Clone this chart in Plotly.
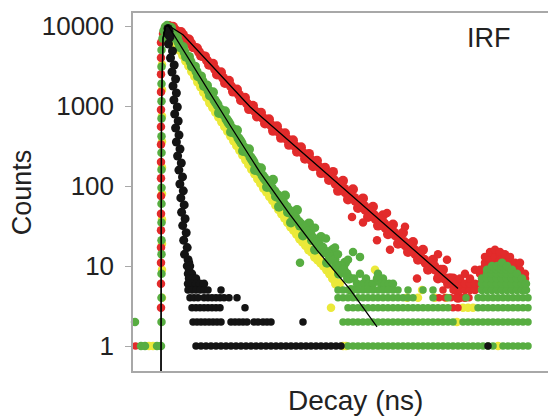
import plotly.graph_objects as go

# ---------------- data (time in ns, counts) ----------------
# RED sample
red_rise_t = [2.8] * 16 + [3.0, 3.2, 3.45]
red_rise_c = [3, 6, 11, 17, 28, 45, 75, 125, 200, 330, 550, 900, 1500, 2500, 4000, 6200, 8000, 9500, 10100]
red_decay_t = [3.6, 4.0, 4.4, 4.8, 5.2, 5.6, 6.0, 6.4, 6.8, 7.2, 7.6,
               8.0, 8.4, 8.8, 9.2, 9.6, 10.0, 10.4, 10.8, 11.2, 11.6,
               12.0, 12.4, 12.8, 13.2, 13.6, 14.0, 14.4, 14.8, 15.2, 15.6,
               16.0, 16.4, 16.8, 17.2, 17.6, 18.0, 18.4, 18.8, 19.2, 19.6,
               20.0, 20.25, 20.5, 20.75, 21.0, 21.25, 21.5, 21.75, 22.0, 22.25,
               22.5, 22.75, 23.0, 23.25, 23.5, 23.75, 24.0, 24.25, 24.5, 24.75,
               25.0, 25.25, 25.5, 25.75, 26.0, 26.25, 26.5, 26.75, 27.0, 27.25,
               27.5, 27.75, 28.0, 28.25, 28.5, 28.75, 29.0, 29.25, 29.5, 29.75,
               30.0, 30.25, 30.5, 30.75, 31.0, 31.25, 31.5, 31.75, 32.0, 32.25,
               32.5]
red_decay_c = [10000, 9770, 8280, 8430, 6970, 6760, 5445, 5270, 4256, 4170, 3289,
               3373, 2477, 2636, 1936, 2061, 1514, 1607, 1183, 1271, 914,
               1005, 740, 822, 604, 681, 489, 557, 400, 456, 327,
               372, 268, 305, 219, 252, 177, 207, 145, 169, 119,
               150, 107, 87, 108, 116, 83, 68, 84, 91, 65,
               53, 65, 70, 50, 41, 51, 55, 39, 32, 40,
               43, 30, 25, 31, 33, 24, 19, 24, 26, 18,
               15, 19, 20, 14, 12, 15, 16, 11, 9, 11,
               12, 9, 7, 9, 9, 7, 6, 7, 7, 5,
               4]
red_mid_t = [3.8, 4.2, 4.6, 5.0, 5.4, 5.8, 6.2, 6.6, 7.0, 7.4, 7.8,
             8.2, 8.6, 9.0, 9.4, 9.8, 10.2, 10.6, 11.0, 11.4, 11.8,
             12.2, 12.6, 13.0, 13.4, 13.8, 14.2, 14.6, 15.0, 15.4, 15.8,
             16.2, 16.6, 17.0, 17.4, 17.8, 18.2, 18.6, 19.0, 19.4, 19.8,
             20.125, 20.625, 21.125, 21.625, 22.125, 22.625, 23.125, 23.625, 24.125, 24.625,
             25.125, 25.625, 26.125, 26.625, 27.125, 27.625, 28.125, 28.625, 29.125, 29.625,
             30.125, 30.625, 31.125, 31.625, 32.125]
red_mid_c = [9680, 8995, 8356, 7762, 6855, 6067, 5358, 4742, 4188, 3698, 3273,
             2891, 2559, 2259, 1995, 1766, 1560, 1380, 1219, 1076, 953,
             861, 780, 705, 638, 577, 521, 472, 427, 386, 349,
             316, 286, 258, 234, 211, 191, 173, 156, 142, 128,
             118, 104, 92, 81, 71, 63, 56, 49, 43, 38,
             34, 30, 26, 23, 20, 18, 16, 14, 12, 11,
             10, 8, 7, 7, 6]
red_out_t = [21.9, 25.4, 24.4, 25.7, 28.4, 27.2, 30.5, 31.4, 23.0]
red_out_c = [41, 46, 21, 16, 7, 31, 14, 12, 35]
red_tail_t = [32.7, 32.7, 32.7, 32.7, 33.2, 33.2, 33.2, 33.2, 33.7, 33.7, 33.7,
              34.2, 34.2, 34.2, 34.7, 34.7, 34.7, 35.2, 35.2, 35.2, 35.7, 35.7, 35.7,
              36.2, 36.2, 36.2, 36.7, 36.7, 36.7, 37.2, 37.2, 37.2, 37.7, 37.7, 37.7,
              38.2, 38.2, 38.2, 38.7, 38.7, 38.7, 39.2, 39.2]
red_tail_c = [4, 5, 6, 7, 4, 5, 6, 8, 5, 6, 7,
              5, 6, 9, 6, 8, 9, 10, 11, 13, 10, 12, 15,
              11, 13, 16, 12, 14, 15, 11, 12, 14, 10, 11, 13,
              9, 10, 11, 8, 9, 11, 7, 8]
red_rows_t = [30.6, 31.2, 31.8, 32.4, 33.0, 33.6, 31.0, 32.0, 32.0, 32.5, 0.25]
red_rows_c = [4, 4, 4, 4, 4, 4, 5, 5, 3, 3, 1]

# GREEN sample
green_rise_t = [2.85] * 16 + [2.95, 3.05, 3.2, 3.4]
green_rise_c = [2, 4, 8, 14, 21, 35, 60, 95, 160, 260, 420, 700, 1150, 1900, 3100, 5000, 7000, 8700, 9800, 10300]
green_decay_t = [3.8, 4.1, 4.4, 4.7, 5.0, 5.3, 5.6, 5.9, 6.2, 6.5,
                 6.8, 7.1, 7.4, 7.7, 8.0, 8.3, 8.6, 8.9, 9.2, 9.5,
                 9.8, 10.1, 10.4, 10.7, 11.0, 11.3, 11.6, 11.9, 12.2, 12.5,
                 12.8, 13.1, 13.4, 13.7, 14.0, 14.3, 14.6, 14.9, 15.2, 15.5,
                 15.8, 16.1, 16.4, 16.7, 17.0, 17.3, 17.6, 17.9, 18.2, 18.5,
                 18.8, 19.1, 19.4, 19.7, 20.0, 20.3, 20.6, 20.9, 21.2, 21.5,
                 21.8]
green_decay_c = [9530, 7210, 7190, 5445, 5445, 4121, 4111, 3112, 3105, 2350,
                 2344, 1782, 1800, 1355, 1489, 1104, 820, 839, 861, 638,
                 474, 486, 498, 370, 274, 281, 288, 214, 159, 163,
                 167, 127, 97, 102, 120, 74, 55, 71, 76, 47,
                 35, 46, 50, 32, 24, 31, 34, 21, 16, 21,
                 23, 15, 11, 15, 16, 10, 8, 10, 11, 7,
                 5]
green_mid_t = [3.95, 4.25, 4.55, 4.85, 5.15, 5.45, 5.75, 6.05, 6.35, 6.65,
               6.95, 7.25, 7.55, 7.85, 8.15, 8.45, 8.75, 9.05, 9.35, 9.65,
               9.95, 10.25, 10.55, 10.85, 11.15, 11.45, 11.75, 12.05, 12.35, 12.65,
               12.95, 13.25, 13.55, 13.85, 14.15, 14.45, 14.75, 15.05, 15.35, 15.65,
               15.95, 16.25, 16.55, 16.85, 17.15, 17.45, 17.75, 18.05, 18.35, 18.65,
               18.95, 19.25, 19.55, 19.85, 20.15, 20.45, 20.75, 21.05, 21.35, 21.65]
green_mid_c = [8290, 7210, 6270, 5445, 4732, 4111, 3573, 3105, 2698, 2344,
               2042, 1782, 1556, 1355, 1183, 1033, 900, 785, 684, 597,
               521, 454, 396, 345, 301, 263, 229, 200, 174, 152,
               135, 120, 107, 96, 86, 77, 69, 61, 55, 49,
               44, 40, 36, 33, 30, 27, 25, 22, 20, 18,
               17, 15, 14, 13, 12, 10, 10, 9, 8, 7]
green_extra_t = [16.7, 22.0, 22.7, 24.5, 25.0, 21.0, 21.5, 20.5, 18.2, 19.3, 20.2, 22.1,
                 22.4, 22.7, 23.0, 23.3, 23.6, 24.0, 24.4, 24.8, 25.2, 25.6, 26.0,
                 0.8, 1.2, 2.4, 2.8, 0.2]
green_extra_c = [11, 15, 13, 8, 7, 9, 12, 14, 30, 22, 17, 7,
                 6, 8, 6, 7, 6, 6, 7, 6, 6, 6, 6,
                 1, 1, 1, 1, 2]
green_bump_t = [34.9, 34.9, 34.9, 35.4, 35.4, 35.4, 35.4, 35.4,
                35.9, 35.9, 35.9, 35.9, 35.9, 35.9, 36.4, 36.4, 36.4, 36.4, 36.4, 36.4,
                36.9, 36.9, 36.9, 36.9, 36.9, 36.9, 36.9, 37.4, 37.4, 37.4, 37.4, 37.4, 37.4,
                37.9, 37.9, 37.9, 37.9, 37.9, 38.4, 38.4, 38.4, 38.4, 38.9, 38.9, 38.9, 39.3, 39.3]
green_bump_c = [5, 6, 7, 5, 6, 7, 8, 9,
                5, 6, 7, 8, 9, 10, 5, 6, 7, 8, 9, 10,
                5, 6, 7, 8, 9, 10, 11, 5, 6, 7, 8, 9, 10,
                5, 6, 7, 8, 9, 5, 6, 7, 8, 5, 6, 7, 5, 6]
green_row1_t = [21.5, 22.0, 22.5, 23.0, 23.5, 24.0, 24.5, 25.0, 25.5, 26.0, 26.5, 27.0,
                27.5, 28.0, 28.5, 29.0, 29.5, 30.0, 30.5, 31.0, 31.5, 32.0, 32.5, 33.0,
                33.5, 34.0, 34.5, 35.0, 35.5, 36.0, 37.0, 37.5, 38.0, 38.5, 39.0, 39.5]
green_row2_t = [21.0, 21.5, 22.0, 22.5, 23.0, 23.5, 24.0, 24.5, 25.0, 25.5, 26.0, 26.5,
                27.0, 27.5, 28.0, 28.5, 29.0, 29.5, 30.0, 30.5, 31.0, 31.5, 32.0, 33.0,
                33.5, 34.0, 34.5, 35.0, 35.5, 36.0, 36.5, 37.0, 37.5, 38.0, 38.5, 39.0, 39.5]
green_row3_t = [21.5, 22.0, 22.5, 23.0, 23.5, 24.0, 24.5, 25.0, 25.5, 26.0, 26.5, 27.0,
                27.5, 28.0, 28.5, 29.0, 29.5, 30.0, 30.5, 31.0, 31.5, 34.5, 35.0, 35.5,
                36.0, 36.5, 37.0, 37.5, 38.0, 38.5, 39.0, 39.5]
green_row4_t = [20.5, 21.0, 21.5, 22.0, 22.5, 23.0, 23.5, 24.0, 24.5, 25.0, 25.5, 26.0,
                26.5, 27.0, 27.5, 28.0, 30.0, 31.5, 33.3, 34.5, 35.0, 35.5, 36.0, 36.5,
                37.0, 37.5, 38.0, 38.5, 39.0, 39.5]
green_row5_t = [20.5, 21.0, 21.5, 22.0, 22.5, 23.0, 23.5, 24.0, 24.5, 25.0, 25.5, 26.0,
                26.5, 27.5, 29.0, 30.0]

# YELLOW sample
yellow_rise_t = [2.9] * 10 + [3.1, 3.3]
yellow_rise_c = [4, 9, 19, 38, 80, 170, 360, 750, 1600, 3300, 8500, 9900]
yellow_decay_t = [4.1, 4.4, 4.7, 5.0, 5.3, 5.6, 5.9, 6.2, 6.5, 6.8,
                  7.1, 7.4, 7.7, 8.0, 8.3, 8.6, 8.9, 9.2, 9.5, 9.8,
                  10.1, 10.4, 10.7, 11.0, 11.3, 11.6, 11.9, 12.2, 12.5, 12.8,
                  13.1, 13.4, 13.7, 14.0, 14.3, 14.6, 14.9, 15.2, 15.5, 15.8,
                  16.1, 16.4, 16.7, 17.0, 17.3, 17.6, 17.9, 18.2, 18.5, 18.8,
                  19.1, 19.4, 19.7, 20.0, 20.3, 20.6]
yellow_decay_c = [6577, 5715, 4966, 4325, 3673, 3192, 2710, 2355, 2000, 1738,
                  1483, 1291, 1102, 962, 838, 731, 637, 556, 484, 423,
                  369, 321, 281, 244, 213, 186, 162, 142, 123, 108,
                  94, 84, 74, 66, 58, 51, 45, 40, 35, 31,
                  28, 25, 22, 20, 18, 16, 15, 13, 12, 11,
                  10, 9, 8, 7, 6, 6]
yellow_extra_t = [19.8, 21.0, 21.3, 27.4, 28.5, 28.9, 31.3, 32.4, 33.0, 33.5, 34.0, 36.5,
                  24.2, 30.2, 1.6, 2.0]
yellow_extra_c = [3, 1, 1, 4, 4, 5, 4, 2, 3, 3, 3, 1,
                  9, 4, 1, 1]

# BLACK (IRF)
irf_decay_t = [3.5, 3.6, 3.45, 3.7, 3.55, 3.95, 3.75, 4.12, 3.9, 4.26,
               4.0, 4.34, 4.09, 4.43, 4.17, 4.52, 4.26, 4.6, 4.34, 4.7,
               4.46, 4.83, 4.59, 4.95, 4.69, 5.03, 4.78, 5.12, 4.86, 5.21,
               4.97, 5.32, 5.07, 5.42, 5.15, 5.51]
irf_decay_c = [9300, 8600, 8000, 7286, 5957, 4870, 3981, 3254, 2661, 2175,
               1778, 1454, 1189, 972, 794, 649, 531, 434, 355, 290,
               237, 194, 158, 130, 106, 87, 71, 58, 47, 39,
               32, 26, 21, 17, 14, 12]
irf_tail_t = [5.6, 5.4, 5.7, 5.6, 5.5, 5.9, 5.6, 6.0, 6.3, 5.5, 5.9, 6.3, 6.7, 7.1]
irf_tail_c = [11, 10, 10, 9, 8, 8, 7, 7, 7, 6, 6, 6, 6, 6]
irf_row5_t = [5.5, 5.9, 6.3, 6.7, 7.1, 7.5, 8.8]
irf_row4_t = [5.7, 6.1, 6.5, 7.1, 7.5, 7.9, 8.3, 8.7, 9.1, 9.6, 10.4]
irf_row3_t = [5.9, 6.3, 6.7, 7.1, 7.5, 7.9, 8.3, 8.7, 11.2]
irf_row2_t = [6.0, 6.4, 6.8, 7.2, 7.6, 8.0, 8.4, 8.8, 9.8, 10.2, 10.6, 11.0, 11.4,
              12.1, 12.5, 13.0, 13.4, 13.8, 17.0]
irf_row1_t = [6.3, 6.8, 7.3, 7.8, 8.3, 8.8, 9.3, 9.8, 10.3, 10.8, 11.3, 11.8, 12.3,
              12.8, 13.3, 13.8, 14.3, 14.8, 15.3, 15.8, 16.3, 16.8, 17.3, 17.8,
              18.3, 18.8, 19.3, 19.8, 20.3, 20.8, 35.5]

# Fitted curves
fit_green_t = [2.8, 2.85, 3.0, 3.25, 3.5, 6.7, 9.7, 12.7, 15.7, 18.4, 21.7, 24.4]
fit_green_c = [0.4, 1000, 7000, 9800, 10200, 2290, 575, 148, 44, 15.8, 5.1, 1.74]
fit_red_t = [2.8, 2.85, 3.0, 3.25, 3.5, 5.0, 8.4, 11.7, 18.4, 21.7, 27.7, 32.5]
fit_red_c = [0.4, 1000, 7000, 9800, 10200, 7760, 2716, 977, 182, 79.4, 17.6, 5.25]

y_tick_vals = [1, 10, 100, 1000, 10000]
y_tick_text = ["1", "10", "100", "1000", "10000"]

# ---------------- assemble series ----------------
BAND, ROW, DOT = 10, 7.5, 8.5

def rows(*pairs):
    xs, ys = [], []
    for t_list, c in pairs:
        xs += list(t_list)
        ys += [c] * len(t_list)
    return xs, ys

g_rx, g_ry = rows((green_row1_t, 1), (green_row2_t, 2), (green_row3_t, 3),
                  (green_row4_t, 4), (green_row5_t, 5))
k_rx, k_ry = rows((irf_row1_t, 1), (irf_row2_t, 2), (irf_row3_t, 3),
                  (irf_row4_t, 4), (irf_row5_t, 5))

RED, GREEN, YELLOW, BLACK = "#e22b2b", "#57ad41", "#ebe93a", "#141414"

fig = go.Figure()

def add_group(color, groups):
    xs, ys, ss = [], [], []
    for t, c, s in groups:
        xs += list(t)
        ys += list(c)
        ss += [s] * len(t)
    fig.add_trace(go.Scatter(x=xs, y=ys, mode="markers", cliponaxis=False,
                             marker=dict(size=ss, color=color, opacity=1, line=dict(width=0)),
                             showlegend=False, hoverinfo="skip"))

add_group(YELLOW, [(yellow_rise_t, yellow_rise_c, DOT),
                   (yellow_decay_t, yellow_decay_c, BAND),
                   (yellow_extra_t, yellow_extra_c, DOT)])
add_group(RED, [(red_rise_t, red_rise_c, DOT),
                (red_decay_t, red_decay_c, BAND),
                (red_mid_t, red_mid_c, BAND),
                (red_out_t, red_out_c, DOT),
                (red_tail_t, red_tail_c, DOT),
                (red_rows_t, red_rows_c, ROW)])
add_group(GREEN, [(green_rise_t, green_rise_c, DOT),
                  (green_decay_t, green_decay_c, BAND),
                  (green_mid_t, green_mid_c, BAND),
                  (green_extra_t, green_extra_c, DOT),
                  (green_bump_t, green_bump_c, DOT),
                  (g_rx, g_ry, ROW)])
add_group(BLACK, [(irf_decay_t, irf_decay_c, 9),
                  (irf_tail_t, irf_tail_c, DOT),
                  (k_rx, k_ry, ROW)])

for t, c in ((fit_green_t, fit_green_c), (fit_red_t, fit_red_c)):
    fig.add_trace(go.Scatter(x=t, y=c, mode="lines", line=dict(color="#000000", width=1.3),
                             showlegend=False, hoverinfo="skip"))

AX = "#a8a8a8"
FONT = "Liberation Sans, Arial, sans-serif"

# the page body adds an 8px margin, so the figure is 8px smaller than the window
fig.update_layout(
    width=548, height=409,
    margin=dict(l=125, r=0, t=5, b=46),
    paper_bgcolor="white", plot_bgcolor="white",
    font=dict(family=FONT, color="#222222"),
    xaxis=dict(range=[0, 42.3], showticklabels=False, ticks="", showgrid=False,
               zeroline=False, showline=True, linecolor=AX, linewidth=1.5, mirror=True),
    yaxis=dict(type="log", range=[-0.3125, 4.1625], tickvals=y_tick_vals, ticktext=y_tick_text,
               ticks="outside", ticklen=6, tickwidth=1.2, tickcolor=AX, showgrid=False,
               zeroline=False, showline=True, linecolor=AX, linewidth=1.5,
               tickfont=dict(size=26, color="#222222", family=FONT), ticklabelstandoff=6),
    annotations=[
        dict(text="IRF", xref="paper", yref="paper", x=0.842, y=0.930, showarrow=False,
             xanchor="center", yanchor="middle", font=dict(size=27, color="#222222")),
        dict(text="Counts", xref="paper", yref="paper", x=-0.262, y=0.5, showarrow=False,
             textangle=-90, xanchor="center", yanchor="middle", font=dict(size=27, color="#222222")),
        dict(text="Decay (ns)", xref="paper", yref="paper", x=0.525, y=-0.083, showarrow=False,
             xanchor="center", yanchor="middle", font=dict(size=28, color="#222222")),
    ],
)

fig.write_html("out.html")
